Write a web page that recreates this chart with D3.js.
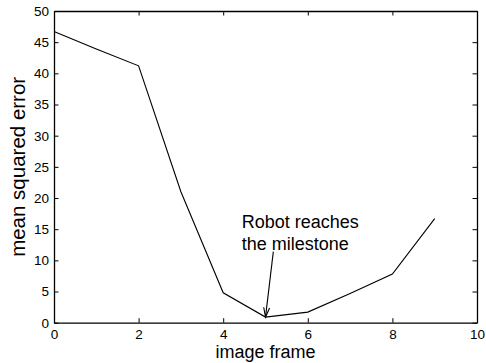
<!DOCTYPE html>
<html>
<head>
<meta charset="utf-8">
<script src="https://cdn.jsdelivr.net/npm/d3@7"></script>
<style>
  html, body { margin: 0; padding: 0; background: #fff; }
  svg { display: block; font-family: "Liberation Sans", Arial, sans-serif; }
</style>
</head>
<body>
<svg id="chart" width="486" height="363"></svg>
<script>
// Error of the pose estimate for each image frame
const frames = [0, 1, 2, 3, 4, 5, 6, 7, 8, 9];
const mse = [46.7, 43.9, 41.2, 21.0, 4.8, 0.9, 1.7, 4.7, 7.8, 16.7];

const xTicks = [0, 2, 4, 6, 8, 10];
const yTicks = [0, 5, 10, 15, 20, 25, 30, 35, 40, 45, 50];

// Annotation: text anchor and arrow tail/head in data units
const noteLines = ["Robot reaches", "the milestone"];
const noteAt = [4.44, 15.27];
const arrowFrom = [5.185, 11.4];
const arrowTo = [5, 0.9];

const svg = d3.select("#chart");
const L = 54, R = 477, T = 11, B = 322.7;

const x = d3.scaleLinear().domain([0, 10]).range([L, R]);
const y = d3.scaleLinear().domain([0, 50]).range([B, T]);

const tickLen = 4.5;

// Axes with inward ticks on all four sides
const axB = d3.axisBottom(x).tickValues(xTicks).tickSizeInner(-tickLen).tickSizeOuter(0).tickPadding(6.5);
const axT = d3.axisTop(x).tickValues(xTicks).tickSizeInner(-tickLen).tickSizeOuter(0).tickFormat("");
const axL = d3.axisLeft(y).tickValues(yTicks).tickSizeInner(-tickLen).tickSizeOuter(0).tickPadding(5);
const axR = d3.axisRight(y).tickValues(yTicks).tickSizeInner(-tickLen).tickSizeOuter(0).tickFormat("");

function style(g) {
  g.selectAll("path.domain").attr("stroke", "#000").attr("stroke-width", 1.3);
  g.selectAll(".tick line").attr("stroke", "#000").attr("stroke-width", 1);
  g.selectAll(".tick text").attr("fill", "#000").attr("font-size", 13.5)
    .attr("font-family", "Liberation Sans, Arial, sans-serif");
}

svg.append("g").attr("transform", `translate(0,${B})`).call(axB).call(style);
svg.append("g").attr("transform", `translate(0,${T})`).call(axT).call(style);
svg.append("g").attr("transform", `translate(${L},0)`).call(axL).call(style);
svg.append("g").attr("transform", `translate(${R},0)`).call(axR).call(style);

// Data line
const line = d3.line().x((d, i) => x(frames[i])).y(d => y(d));
svg.append("path")
  .datum(mse)
  .attr("fill", "none")
  .attr("stroke", "#000")
  .attr("stroke-width", 1.1)
  .attr("stroke-linejoin", "miter")
  .attr("d", line);

// Axis titles
svg.append("text")
  .attr("x", (L + R) / 2)
  .attr("y", 358)
  .attr("text-anchor", "middle")
  .attr("font-size", 18)
  .text("image frame");

svg.append("text")
  .attr("transform", `translate(25,${(T + B) / 2}) rotate(-90)`)
  .attr("text-anchor", "middle")
  .attr("font-size", 20.5)
  .text("mean squared error");

// Annotation text
const note = svg.append("text")
  .attr("x", x(noteAt[0]))
  .attr("y", y(noteAt[1]))
  .attr("font-size", 18);
noteLines.forEach((s, i) => {
  note.append("tspan")
    .attr("x", x(noteAt[0]))
    .attr("dy", i === 0 ? 0 : 22.5)
    .text(s);
});

// Annotation arrow
const x0 = x(arrowFrom[0]), y0 = y(arrowFrom[1]);
const x1 = x(arrowTo[0]), y1 = y(arrowTo[1]);
svg.append("line")
  .attr("x1", x0).attr("y1", y0).attr("x2", x1).attr("y2", y1)
  .attr("stroke", "#000").attr("stroke-width", 1.1);
const ang = Math.atan2(y1 - y0, x1 - x0);
const headLen = 10, headHalf = 0.3;
const pA = [x1 - headLen * Math.cos(ang - headHalf), y1 - headLen * Math.sin(ang - headHalf)];
const pB = [x1 - headLen * Math.cos(ang + headHalf), y1 - headLen * Math.sin(ang + headHalf)];
svg.append("path")
  .attr("d", `M${pA[0]},${pA[1]}L${x1},${y1}L${pB[0]},${pB[1]}`)
  .attr("fill", "none")
  .attr("stroke", "#000").attr("stroke-width", 1.1);
</script>
</body>
</html>
